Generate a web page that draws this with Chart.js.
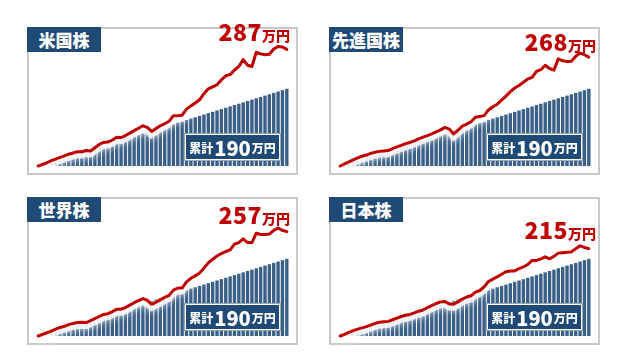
<!DOCTYPE html>
<html><head><meta charset="utf-8">
<script src="https://cdn.jsdelivr.net/npm/chart.js@4/dist/chart.umd.min.js"></script>
<style>
html,body{margin:0;padding:0;background:#fff;width:623px;height:363px;overflow:hidden;font-family:"Noto Sans CJK JP","Noto Sans",sans-serif;}
.panel{position:absolute;width:271px;height:148px;}
.frame{position:absolute;left:0;top:0;width:271px;height:148px;box-sizing:border-box;border:2px solid #c8c8c8;}
.panel canvas{position:absolute;left:0;top:0;}
.title{position:absolute;left:0;top:0;width:74px;height:25px;background:#1f4a76;color:#fff;font-weight:900;font-size:17px;line-height:25px;text-align:center;white-space:nowrap;}
.value{position:absolute;color:#c00000;font-weight:900;white-space:nowrap;line-height:1;}
.value .num{font-size:23px;letter-spacing:0.5px;}
.value .unit{font-size:14px;}
.total{position:absolute;right:18px;top:107px;width:95px;height:26px;box-sizing:border-box;background:#1f4a76;border:1px solid #fff;outline:1px solid #9aa9b8;color:#fff;font-weight:900;display:flex;align-items:center;justify-content:center;white-space:nowrap;}
.total .s{font-size:12px;}
.total .b{font-size:20px;margin:0 1px;}
</style></head>
<body>
<div class="panel" id="p0" style="left:27px;top:27px"><div class="frame"></div><canvas id="c0" width="271" height="148"></canvas><div class="title">米国株</div><div class="value" style="right:8px;top:-7px"><span class="num">287</span><span class="unit">万円</span></div><div class="total"><span class="s">累計</span><span class="b">190</span><span class="s">万円</span></div></div>
<div class="panel" id="p1" style="left:329px;top:27px"><div class="frame"></div><canvas id="c1" width="271" height="148"></canvas><div class="title">先進国株</div><div class="value" style="right:4px;top:3px"><span class="num">268</span><span class="unit">万円</span></div><div class="total"><span class="s">累計</span><span class="b">190</span><span class="s">万円</span></div></div>
<div class="panel" id="p2" style="left:27px;top:197px"><div class="frame"></div><canvas id="c2" width="271" height="148"></canvas><div class="title">世界株</div><div class="value" style="right:8px;top:6px"><span class="num">257</span><span class="unit">万円</span></div><div class="total"><span class="s">累計</span><span class="b">190</span><span class="s">万円</span></div></div>
<div class="panel" id="p3" style="left:329px;top:197px"><div class="frame"></div><canvas id="c3" width="271" height="148"></canvas><div class="title">日本株</div><div class="value" style="right:4px;top:21px"><span class="num">215</span><span class="unit">万円</span></div><div class="total"><span class="s">累計</span><span class="b">190</span><span class="s">万円</span></div></div>
<script>
// 58 periods
const periods = ["1","2","3","4","5","6","7","8","9","10","11","12","13","14","15","16","17","18","19","20","21","22","23","24","25","26","27","28","29","30","31","32","33","34","35","36","37","38","39","40","41","42","43","44","45","46","47","48","49","50","51","52","53","54","55","56","57","58"];
// cumulative invested amount (万円)
const invested = [0,3.3,6.7,10,13.3,16.7,20,23.3,26.7,30,33.3,36.7,40,43.3,46.7,50,53.3,56.7,60,63.3,66.7,70,73.3,76.7,80,83.3,86.7,90,93.3,96.7,100,103.3,106.7,110,113.3,116.7,120,123.3,126.7,130,133.3,136.7,140,143.3,146.7,150,153.3,156.7,160,163.3,166.7,170,173.3,176.7,180,183.3,186.7,190];
// portfolio value (万円)
const usStocks = [0,4,8,13,17,21,25,29,32,35,35,38,37,45,53,58,59,64,71,70,75,81,87,93,99,95,85,92,99,104,110,124,124,125,140,148,155,163,178,190,195,200,212,222,225,236,245,262,248,245,280,276,274,275,288,294,293,287];
const developedStocks = [0,5,10,15,20,24,27,31,34,36,37,38,43,47,51,55,58,62,67,71,75,79,84,89,95,91,79,88,98,103,109,120,122,124,138,146,152,162,172,183,192,198,206,214,218,233,237,248,240,236,264,259,257,258,270,278,274,268];
const worldStocks = [0,4,8,12,17,21,24,28,31,33,34,33,38,43,48,53,55,60,66,66,70,76,82,87,92,88,78,83,89,95,100,113,118,118,133,142,148,155,167,180,189,197,203,208,212,226,230,239,230,230,253,250,250,251,260,266,260,257];
const japanStocks = [0,4,9,13,17,20,23,27,31,34,35,36,40,44,48,51,53,57,61,64,70,75,80,84,85,79,78,84,91,96,99,108,112,121,134,140,146,152,158,160,160,166,170,176,186,186,190,195,190,196,204,205,206,207,215,222,218,215];

const series = [usStocks, developedStocks, worldStocks, japanStocks];

const glowPlugin = {
  id: 'glow',
  beforeDatasetDraw(chart, args) {
    if (args.meta.order === 1) {
      const ctx = chart.ctx;
      ctx.save();
      ctx.translate(0, 3);
      ctx.shadowColor = 'rgba(255,255,255,1)';
      ctx.shadowBlur = 6;
    }
  },
  afterDatasetDraw(chart, args) {
    if (args.meta.order === 1) chart.ctx.restore();
  }
};

series.forEach((vals, k) => {
  new Chart(document.getElementById('c' + k), {
    type: 'bar',
    data: {
      labels: periods,
      datasets: [
        {type: 'line', data: vals, borderColor: '#c00000', borderWidth: 3, pointRadius: 0, tension: 0, order: 0, clip: false, borderJoinStyle: 'round', borderCapStyle: 'round'},
        {type: 'line', data: vals, borderColor: 'rgba(255,255,255,0.8)', borderWidth: 7, pointRadius: 0, tension: 0, order: 1, clip: false},
        {type: 'bar', data: invested, backgroundColor: '#3b6088', borderWidth: 0, barPercentage: 0.78, categoryPercentage: 1, order: 2}
      ]
    },
    options: {
      responsive: false,
      devicePixelRatio: 1,
      animation: false,
      events: [],
      layout: {padding: {left: 9, right: 9, top: 9, bottom: 9}},
      plugins: {legend: {display: false}, tooltip: {enabled: false}},
      scales: {
        x: {display: false, grid: {display: false}},
        y: {display: false, min: 0, max: 320, grid: {display: false}}
      }
    },
    plugins: [glowPlugin]
  });
});
</script>
</body></html>
